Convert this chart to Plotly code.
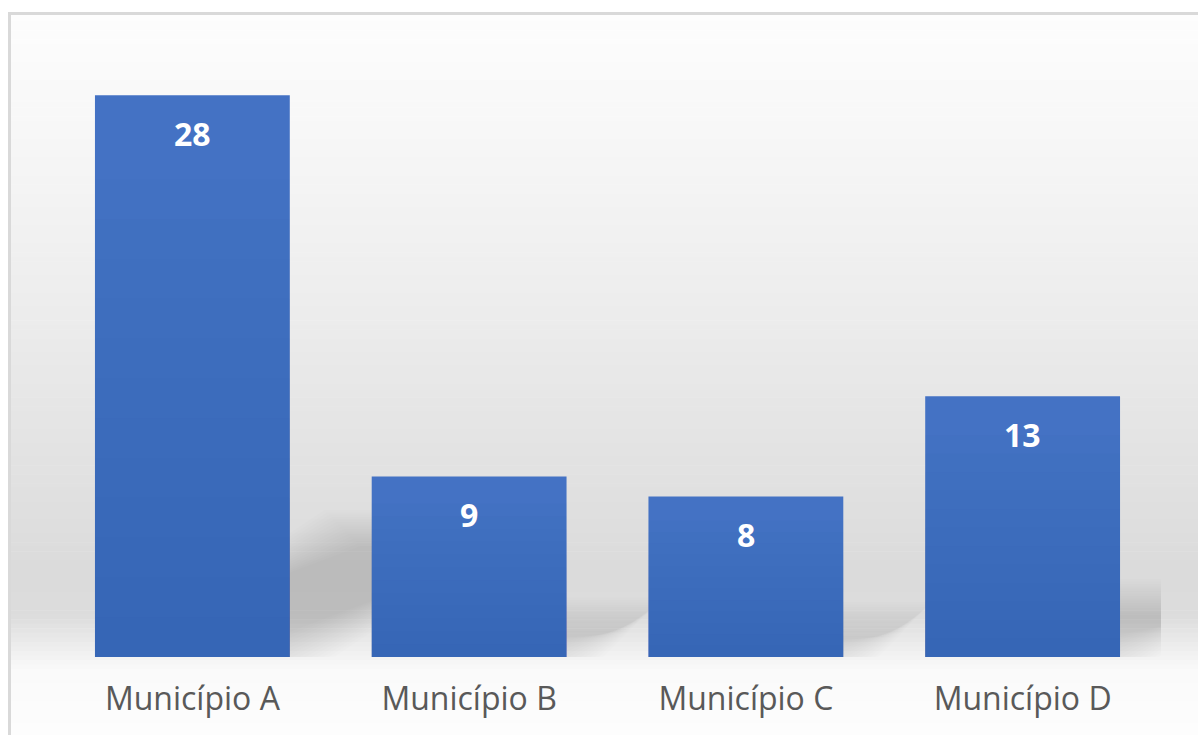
import numpy as np
import plotly.graph_objects as go

# Chart data
municipios = ["Município A", "Município B", "Município C", "Município D"]
valores = [28, 9, 8, 13]

W, H = 1198, 735
M_L, M_R, M_T, M_B = 54, 37, 55, 78
Y_MAX = 30
BARGAP = 0.296

plot_w = W - M_L - M_R
plot_h = H - M_T - M_B
px_per_unit = plot_h / Y_MAX
px_per_cat = plot_w / len(municipios)
half_bar = (1 - BARGAP) / 2


def px_to_paper_x(px):
    return (px - M_L) / plot_w


def px_to_paper_y(py):
    return (H - M_B - py) / plot_h


x_pos = list(range(len(municipios)))

fig = go.Figure()
fig.add_trace(go.Bar(
    x=x_pos, y=valores,
    marker=dict(color="#4472C4", line=dict(width=0)),
    hoverinfo="skip",
))

shapes = []

# Background: vertical grey gradient behind the whole chart area
stops_py = [12, 150, 300, 450, 570, 615, 645, 670, 735]
stops_v = [253, 246, 237, 227, 219, 220, 236, 250, 253]
edges = np.linspace(12, H + 2, 161)
for a, b in zip(edges[:-1], edges[1:]):
    g = int(round(np.interp((a + b) / 2, stops_py, stops_v)))
    shapes.append(dict(
        type="rect", xref="paper", yref="paper", layer="below",
        x0=px_to_paper_x(8), x1=px_to_paper_x(W + 5),
        y0=px_to_paper_y(b + 0.6), y1=px_to_paper_y(a),
        fillcolor=f"rgb({g},{g},{g})", line=dict(width=0),
    ))

# Soft perspective shadows cast up and to the right of each bar
n_layers = 16
for i, v in enumerate(valores):
    x0, x1 = i - half_bar, i + half_bar
    dy = 0.23 * v
    dx = 0.44 * v * px_per_unit / px_per_cat
    for k in range(n_layers):
        o = -18 + 36 * k / (n_layers - 1)  # pixel offset of this layer
        ox = o / px_per_cat
        oy = o / px_per_unit
        path = (f"M {x0 - ox},{-oy} L {x1 + ox},{-oy} "
                f"L {x1 + dx + ox},{dy + oy} L {x0 + dx - ox},{dy + oy} Z")
        shapes.append(dict(
            type="path", xref="x", yref="y", layer="below", path=path,
            fillcolor="rgba(0,0,0,0.0095)", line=dict(width=0),
        ))

# Slightly darker shading toward the bottom of each bar
n_shade = 12
for i, v in enumerate(valores):
    for k in range(1, n_shade + 1):
        shapes.append(dict(
            type="rect", xref="x", yref="y", layer="above",
            x0=i - half_bar, x1=i + half_bar, y0=0, y1=v * (k / n_shade) * 0.85,
            fillcolor="rgba(20,40,100,0.015)", line=dict(width=0),
        ))

# Chart frame
shapes.append(dict(
    type="rect", xref="paper", yref="paper", layer="above",
    x0=px_to_paper_x(9.5), x1=px_to_paper_x(W + 10),
    y0=px_to_paper_y(H + 10), y1=px_to_paper_y(13.5),
    line=dict(color="#d9d9d9", width=3), fillcolor="rgba(0,0,0,0)",
))

# Value labels inside the top of each bar
annotations = [
    dict(x=i, y=v, xref="x", yref="y", text=str(v), showarrow=False,
         yanchor="middle", yshift=-38,
         font=dict(family="Open Sans", size=32, color="white", weight="bold"))
    for i, v in enumerate(valores)
]

fig.update_layout(
    width=W, height=H,
    margin=dict(l=M_L, r=M_R, t=M_T, b=M_B, pad=0),
    paper_bgcolor="white",
    plot_bgcolor="rgba(0,0,0,0)",
    bargap=BARGAP,
    showlegend=False,
    shapes=shapes,
    annotations=annotations,
    xaxis=dict(
        range=[-0.5, len(municipios) - 0.5],
        tickvals=x_pos, ticktext=municipios,
        showgrid=False, zeroline=False, showline=False,
        ticks="", ticklabelstandoff=20,
        tickfont=dict(family="Open Sans", size=32, color="#595959"),
    ),
    yaxis=dict(
        range=[0, Y_MAX], visible=False, showgrid=False, zeroline=False,
    ),
)

fig.write_html("out.html")
